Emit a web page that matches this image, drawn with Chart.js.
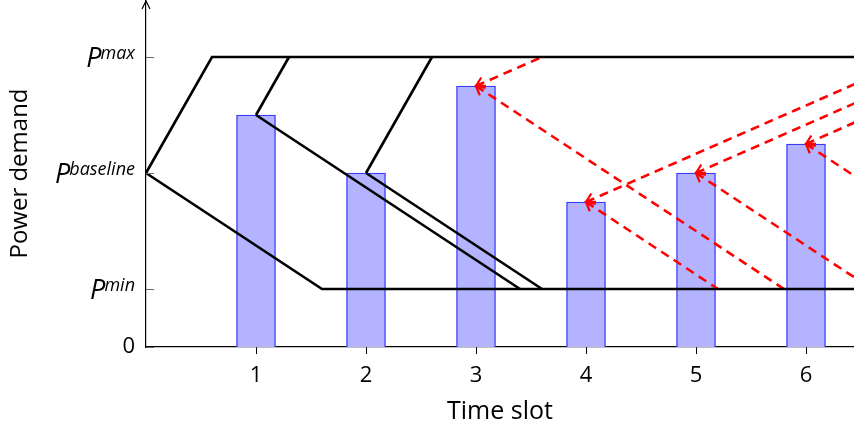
<!DOCTYPE html>
<html>
<head>
<meta charset="utf-8">
<script src="https://cdn.jsdelivr.net/npm/chart.js@4.4.1/dist/chart.umd.min.js"></script>
<style>
  html, body { margin: 0; padding: 0; background: #fff; }
  #wrap { width: 854px; height: 432px; }
</style>
</head>
<body>
<div id="wrap"><canvas id="chart" width="854" height="432"></canvas></div>
<script>
// time slots and demand per slot (bars)
const slots = [1, 2, 3, 4, 5, 6];
const demand = [4, 3, 4.5, 2.5, 3, 3.5];

// power levels on the y axis
const yTickValues = [0, 1, 3, 5];
const yTickLabels = ['0', ['P', 'min'], ['P', 'baseline'], ['P', 'max']];

// solid black trajectories (x = time, y = power)
const blackPaths = [
  [[0, 3], [0.6, 5], [6.6, 5]],
  [[0, 3], [1.6, 1], [6.6, 1]],
  [[1, 4], [1.3, 5]],
  [[1, 4], [3.4, 1]],
  [[2, 3], [2.6, 5]],
  [[2, 3], [3.6, 1]]
];

// dashed red trajectories, first point carries the arrow head
const redPaths = [
  [[3, 4.5], [3.6, 5]],
  [[3, 4.5], [5.8, 1]],
  [[4, 2.5], [6.5, 4.58]],
  [[4, 2.5], [5.2, 1]],
  [[5, 3], [6.5, 4.25]],
  [[5, 3], [6.5, 1.125]],
  [[6, 3.5], [6.5, 3.92]],
  [[6, 3.5], [6.5, 2.875]]
];

const FONT = "'Open Sans', 'DejaVu Sans', sans-serif";

const toPts = p => p.map(([x, y]) => ({ x, y }));

const datasets = [];
blackPaths.forEach(p => datasets.push({
  type: 'line', data: toPts(p), borderColor: '#000', borderWidth: 2.6,
  pointRadius: 0, fill: false, tension: 0, order: 1
}));
redPaths.forEach(p => datasets.push({
  type: 'line', data: toPts(p), borderColor: '#ff0000', borderWidth: 2.6,
  borderDash: [9, 6], pointRadius: 0, fill: false, tension: 0, order: 1
}));
datasets.push({
  type: 'bar',
  data: slots.map((s, i) => ({ x: s, y: demand[i] })),
  backgroundColor: '#b3b3ff',
  borderColor: '#3a3aff',
  borderWidth: 1.4,
  barThickness: 39,
  order: 2
});

const extras = {
  id: 'extras',
  afterDatasetsDraw(chart) {
    const { ctx, scales: { x, y } } = chart;
    ctx.save();
    // arrow heads on red lines
    ctx.strokeStyle = '#ff0000';
    ctx.lineWidth = 2.2;
    ctx.setLineDash([]);
    redPaths.forEach(p => {
      const x0 = x.getPixelForValue(p[0][0]), y0 = y.getPixelForValue(p[0][1]);
      const x1 = x.getPixelForValue(p[1][0]), y1 = y.getPixelForValue(p[1][1]);
      const a = Math.atan2(y1 - y0, x1 - x0);
      const L = 10, w = 0.6;
      ctx.beginPath();
      ctx.moveTo(x0 + L * Math.cos(a - w), y0 + L * Math.sin(a - w));
      ctx.lineTo(x0, y0);
      ctx.lineTo(x0 + L * Math.cos(a + w), y0 + L * Math.sin(a + w));
      ctx.stroke();
    });
    ctx.restore();
  },
  afterDraw(chart) {
    const { ctx, chartArea, scales: { y } } = chart;
    ctx.save();
    // y axis arrow
    const ax = chartArea.left;
    ctx.strokeStyle = '#000';
    ctx.lineWidth = 1.2;
    ctx.beginPath();
    ctx.moveTo(ax - 4, 9);
    ctx.lineTo(ax, 1);
    ctx.lineTo(ax + 4, 9);
    ctx.moveTo(ax, 1);
    ctx.lineTo(ax, chartArea.top + 2);
    ctx.stroke();
    // inward y ticks
    ctx.strokeStyle = '#666';
    ctx.lineWidth = 1;
    yTickValues.forEach(v => {
      const py = Math.round(y.getPixelForValue(v)) + 0.5;
      ctx.beginPath();
      ctx.moveTo(ax, py);
      ctx.lineTo(ax + 8, py);
      ctx.stroke();
    });
    // P labels with superscripts
    ctx.fillStyle = '#000';
    ctx.textBaseline = 'alphabetic';
    ctx.textAlign = 'left';
    yTickValues.forEach((v, i) => {
      const lab = yTickLabels[i];
      if (!Array.isArray(lab)) return;
      const py = y.getPixelForValue(v);
      const right = ax - 11;
      ctx.font = 'italic 18px ' + FONT;
      const sw = ctx.measureText(lab[1]).width;
      ctx.fillText(lab[1], right - sw, py + 2);
      ctx.font = 'italic 27px ' + FONT;
      const pw = ctx.measureText(lab[0]).width;
      ctx.fillText(lab[0], right - sw - pw + 1, py + 10);
    });
    ctx.restore();
  }
};

new Chart(document.getElementById('chart'), {
  data: { datasets },
  options: {
    responsive: false,
    animation: false,
    layout: { padding: 0 },
    plugins: { legend: { display: false }, tooltip: { enabled: false } },
    scales: {
      x: {
        type: 'linear',
        min: 0,
        max: 708 / 110,
        offset: false,
        afterFit(s) { s.height = 85; s.paddingLeft = 0; s.paddingRight = 0; },
        afterBuildTicks(s) { s.ticks = slots.map(v => ({ value: v })); },
        grid: { drawOnChartArea: false, offset: false, tickLength: 7, tickColor: '#000', color: '#000' },
        border: { display: true, color: '#000', width: 1.2 },
        ticks: { color: '#000', font: { family: FONT, size: 22 }, padding: 9, maxRotation: 0 },
        title: { display: true, text: 'Time slot', color: '#000', font: { family: FONT, size: 25 }, padding: { top: 0, bottom: 5 } }
      },
      y: {
        type: 'linear',
        min: 0,
        max: 347 / 58,
        afterFit(s) { s.width = 146; s.paddingTop = 0; s.paddingBottom = 0; },
        afterBuildTicks(s) { s.ticks = yTickValues.map(v => ({ value: v })); },
        grid: { display: false, drawTicks: false },
        border: { display: true, color: '#000', width: 1.2 },
        ticks: {
          color: '#000', font: { family: FONT, size: 22 }, padding: 11,
          callback: (v) => { const i = yTickValues.indexOf(v); return typeof yTickLabels[i] === 'string' ? yTickLabels[i] : ''; }
        },
        title: { display: true, text: 'Power demand', color: '#000', font: { family: FONT, size: 24 }, padding: { top: 6, bottom: 0 } }
      }
    }
  },
  plugins: [extras]
});
</script>
</body>
</html>
